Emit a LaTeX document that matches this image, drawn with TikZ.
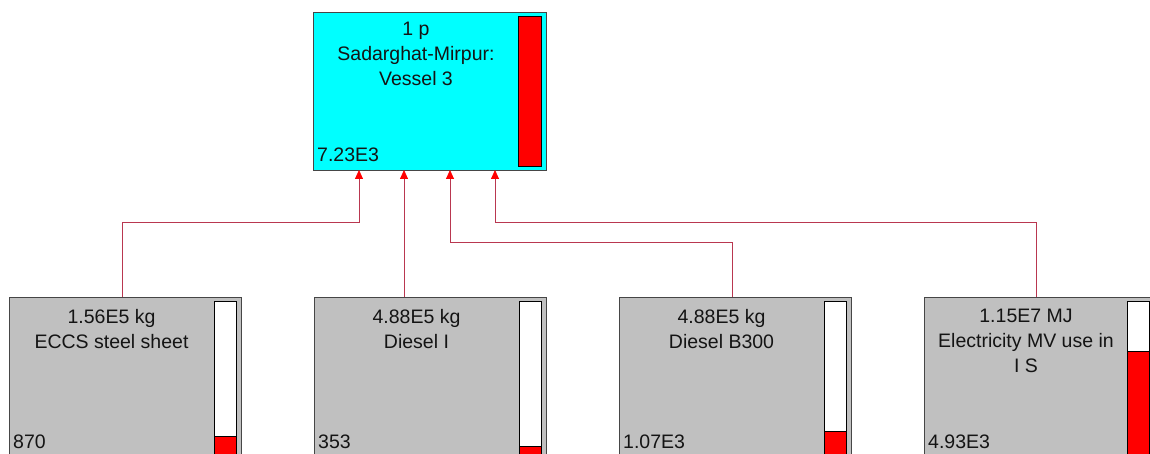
\documentclass[tikz,border=0pt]{standalone}
\usepackage{fontspec}
\setmainfont{Liberation Sans}
\usetikzlibrary{arrows.meta}
\definecolor{boxgray}{RGB}{192,192,192}
\definecolor{boxcyan}{RGB}{0,255,255}
\definecolor{edgegray}{RGB}{70,70,70}
\definecolor{linkred}{RGB}{185,55,80}
\definecolor{barred}{RGB}{255,0,0}
\definecolor{txt}{RGB}{20,20,20}
\tikzset{
  procbox/.style={draw=edgegray, line width=0.9pt, fill=boxgray, anchor=north west, inner sep=0pt, minimum width=232pt, minimum height=160pt},
  topbox/.style={procbox, fill=boxcyan, minimum width=233pt, minimum height=158pt},
  barbox/.style={draw=black, line width=0.8pt, fill=white, anchor=north west, inner sep=0pt, minimum width=22pt, minimum height=156pt},
  barfill/.style={draw=black, line width=0.8pt, fill=barred, anchor=south west, inner sep=0pt, minimum width=22pt},
  titletext/.style={anchor=north, align=center, inner sep=0pt, text=txt},
  valtext/.style={anchor=base west, inner sep=0pt, text=txt},
  conn/.style={draw=linkred, line width=0.8pt, -{Triangle[width=8pt,length=9pt,color=barred]}}
}
\begin{document}
\begin{tikzpicture}[x=1pt,y=-1pt,font=\fontsize{19.5}{25}\selectfont]
\useasboundingbox (0,0) rectangle (1150,454);
% top process
\node[topbox] (top) at (313,12) {};
\node[draw=black, line width=0.8pt, fill=barred, anchor=north west, inner sep=0pt, minimum width=23pt, minimum height=150pt] (topbar) at (518,16) {};
\node[titletext] (toptitle) at (416,22) {1 p\\Sadarghat-Mirpur:\\Vessel 3};
\node[valtext] (topval) at (317,162) {7.23E3};
% bottom processes
\node[procbox] (b1) at (9,297) {};
\node[procbox] (b2) at (314,297) {};
\node[procbox] (b3) at (619,297) {};
\node[procbox] (b4) at (924,297) {};
\node[barbox] (bar1) at (214,301) {};
\node[barbox] (bar2) at (519,301) {};
\node[barbox] (bar3) at (824,301) {};
\node[barbox] (bar4) at (1127,301) {};
\node[barfill, minimum height=21pt] (fill1) at (bar1.south west) {};
\node[barfill, minimum height=11pt] (fill2) at (bar2.south west) {};
\node[barfill, minimum height=26pt] (fill3) at (bar3.south west) {};
\node[barfill, minimum height=106pt] (fill4) at (bar4.south west) {};
\node[titletext] (t1) at (111.5,309) {1.56E5 kg\\ECCS steel sheet};
\node[titletext] (t2) at (416.5,309) {4.88E5 kg\\Diesel I};
\node[titletext] (t3) at (721.5,309) {4.88E5 kg\\Diesel B300};
\node[titletext] (t4) at (1026,309) {1.15E7 MJ\\Electricity MV use in\\I S};
\node[valtext] (v1) at (13,448) {870};
\node[valtext] (v2) at (318,448) {353};
\node[valtext] (v3) at (623,448) {1.07E3};
\node[valtext] (v4) at (928,448) {4.93E3};
% entry points on the top box
\coordinate (in1) at (359,170);
\coordinate (in2) at (404,170);
\coordinate (in3) at (450,170);
\coordinate (in4) at (495,170);
% connectors
\draw[conn] ([xshift=113pt]b1.north west) |- ([yshift=-52pt]in1) -- (in1);
\draw[conn] (b2.north west -| in2) -- (in2);
\draw[conn] ([xshift=113pt]b3.north west) |- ([yshift=-72pt]in3) -- (in3);
\draw[conn] ([xshift=112pt]b4.north west) |- ([yshift=-52pt]in4) -- (in4);
\end{tikzpicture}
\end{document}
